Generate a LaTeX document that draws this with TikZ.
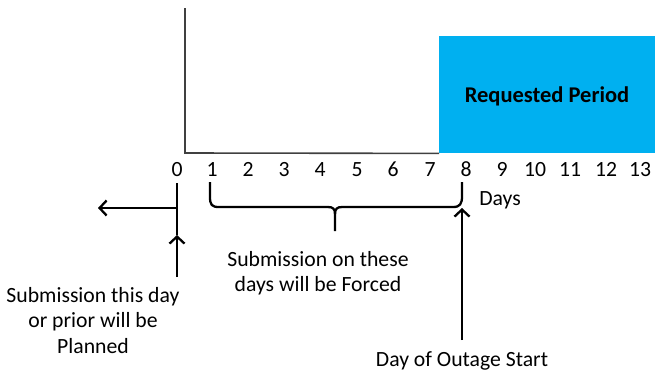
\documentclass[tikz,border=0pt]{standalone}
\usepackage{fontspec}
\setmainfont{Carlito}
\usetikzlibrary{arrows.meta}
\definecolor{reqblue}{HTML}{00B0F0}
\definecolor{axisgray}{HTML}{404040}
\tikzset{
  lbl/.style={inner sep=0pt, font=\fontsize{21.7}{25.6}\selectfont},
  tick/.style={lbl, anchor=base},
  axisline/.style={draw=axisgray, line width=1.6pt},
  pointer/.style={draw=black, line width=2.3pt, -{Straight Barb[length=7pt,width=15pt,line width=2.3pt]}},
  bracepath/.style={draw=black, line width=2.3pt},
}
\begin{document}
\begin{tikzpicture}[x=1pt,y=-1pt]
\useasboundingbox (0,0) rectangle (655,370);
% axes
\coordinate (top) at (185,8);
\coordinate (origin) at (185,153);
\node[fill=reqblue, minimum width=216pt, minimum height=117pt, inner sep=0pt, anchor=north west] (req) at (439,36) {};
\node[lbl, font=\fontsize{22.5}{25.6}\selectfont\bfseries] (reqtext) at (547,96) {Requested Period};
\draw[axisline] (top) -- (origin) -- (req.south west);
% tick labels
\foreach \i/\x in {0/177,1/212,2/248,3/284,4/320,5/357,6/393,7/430,8/466,9/502,10/535,11/570,12/606,13/640}{
  \node[tick] (t\i) at (\x,176) {\i};
}
\node[tick] (days) at (500,205) {Days};
% day 0 marker
\coordinate (zeroTop) at (177,183);
\coordinate (zeroMid) at (177,235);
\coordinate (zeroLeft) at (98,208);
\coordinate (zeroJoin) at (177,208);
\node[lbl, align=center, anchor=north] (planned) at (93,287) {Submission this day\\or prior will be\\Planned};
\draw[bracepath] (zeroTop) -- (zeroMid);
\draw[pointer] (planned.north -| zeroTop) ++(0,-10) coordinate (zeroBot) -- (zeroMid);
\draw[pointer] (zeroJoin) -- (zeroLeft);
% brace
\draw[bracepath] (210,182) -- (210,197) .. controls (210,205) and (212,207) .. (219,207)
  -- (328,207) .. controls (333,207) and (335,209) .. (335,214) -- (335,231);
\draw[bracepath] (335,214) .. controls (335,209) and (337,207) .. (342,207)
  -- (453,207) .. controls (460,207) and (462,204) .. (462,196) -- (462,182);
\node[lbl, align=center, anchor=north] (forced) at (318,251) {Submission on these\\days will be Forced};
% outage start
\node[tick] (outage) at (462,366) {Day of Outage Start};
\coordinate (outTip) at (462,208);
\draw[pointer] (462,340) -- (outTip);
\end{tikzpicture}
\end{document}
